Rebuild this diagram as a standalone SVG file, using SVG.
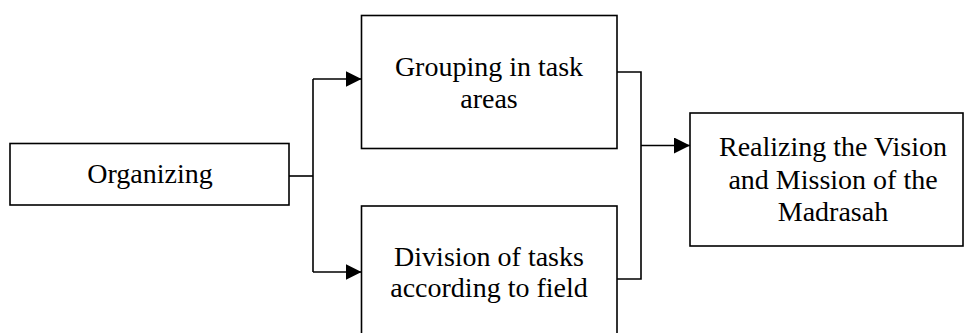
<svg xmlns="http://www.w3.org/2000/svg" width="964" height="333" viewBox="0 0 964 333">
<defs>
<style>
.box{fill:#fff;stroke:#000;stroke-width:1.6}
.lbl{font-family:"Liberation Serif","Times New Roman",serif;font-size:28px;fill:#000;text-anchor:middle}
.con{fill:none;stroke:#000;stroke-width:1.6}
</style>
<marker id="arr" markerUnits="userSpaceOnUse" markerWidth="16" markerHeight="16" refX="16" refY="8" orient="auto">
<path d="M0,0 L16,8 L0,16 Z" fill="#000"/>
</marker>
</defs>
<g id="connectors">
<path class="con" d="M289,176 H313"/>
<path class="con" d="M313,79 V272"/>
<path class="con" d="M313,79 H361.5" marker-end="url(#arr)"/>
<path class="con" d="M313,272 H361.5" marker-end="url(#arr)"/>
<path class="con" d="M617,72 H641 V279 H617"/>
<path class="con" d="M641,145.5 H690" marker-end="url(#arr)"/>
</g>
<g id="organizing">
<rect class="box" x="10" y="143.5" width="279" height="61.5"/>
<text class="lbl" x="150" y="183">Organizing</text>
</g>
<g id="grouping">
<rect class="box" x="361.5" y="15.5" width="255.5" height="133"/>
<text class="lbl" x="489" y="76">Grouping in task</text>
<text class="lbl" x="489" y="108">areas</text>
</g>
<g id="division">
<rect class="box" x="361.5" y="206" width="255.5" height="140"/>
<text class="lbl" x="489" y="266">Division of tasks</text>
<text class="lbl" x="489" y="297">according to field</text>
</g>
<g id="realizing">
<rect class="box" x="690" y="113" width="273" height="133"/>
<text class="lbl" x="833" y="156">Realizing the Vision</text>
<text class="lbl" x="833" y="189">and Mission of the</text>
<text class="lbl" x="833" y="221">Madrasah</text>
</g>
</svg>
